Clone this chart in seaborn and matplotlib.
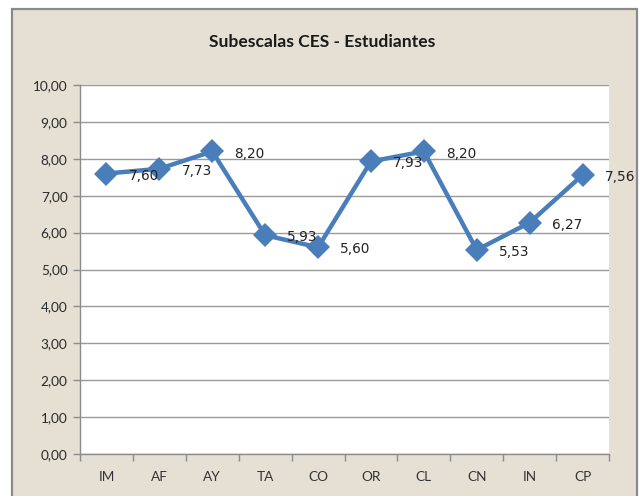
import matplotlib
matplotlib.use("Agg")
import matplotlib.pyplot as plt
from matplotlib.patches import Rectangle
import seaborn as sns
import pandas as pd

categories = ["IM", "AF", "AY", "TA", "CO", "OR", "CL", "CN", "IN", "CP"]
values = [7.60, 7.73, 8.20, 5.93, 5.60, 7.93, 8.20, 5.53, 6.27, 7.56]
yticks = [0, 1, 2, 3, 4, 5, 6, 7, 8, 9, 10]
title = "Subescalas CES - Estudiantes"

df = pd.DataFrame({"cat": categories, "val": values})

sns.set_theme(style="white")
plt.rcParams["font.family"] = ["Lato", "DejaVu Sans"]

W, H = 639, 496
fig = plt.figure(figsize=(W / 100, H / 100), dpi=100)
fig.patch.set_facecolor("white")

# chart frame with parchment background
bg = "#e6dfd4"
frame = Rectangle((12 / W, -0.05), (637 - 12) / W, 1.05 - 9 / H,
                  transform=fig.transFigure, facecolor=bg,
                  edgecolor="#8a8a8a", linewidth=1.6, zorder=-10)
fig.patches.append(frame)

left, right, top, bottom = 80, 609, 85, 454
ax = fig.add_axes([left / W, 1 - bottom / H, (right - left) / W, (bottom - top) / H])
ax.set_facecolor("white")

sns.lineplot(data=df, x="cat", y="val", ax=ax, sort=False, color="#4a7ebb",
             linewidth=3.2, marker="D", markersize=12.5, markeredgecolor="#4a7ebb",
             markeredgewidth=0)

for i, v in enumerate(values):
    ax.annotate(f"{v:.2f}".replace(".", ","), (i, v), xytext=(16, -1.5),
                textcoords="offset points", ha="left", va="center",
                fontsize=9.8, color="#222222", family=["DejaVu Sans"])

ax.set_ylim(0, 10)
ax.set_xlim(-0.5, len(categories) - 0.5)
ax.set_yticks(yticks)
ax.set_yticklabels([f"{t:.2f}".replace(".", ",") for t in yticks])
ax.set_xticks(range(len(categories)))
ax.set_xticklabels(categories)
ax.set_xticks([i - 0.5 for i in range(len(categories) + 1)], minor=True)
ax.tick_params(axis="x", which="major", length=0, pad=12, labelsize=9.8, colors="#333333")
ax.tick_params(axis="x", which="minor", length=5, width=1, color="#8c8c8c", bottom=True)
ax.tick_params(axis="y", which="major", length=5, width=1, color="#8c8c8c", left=True,
               pad=4, labelsize=9.8, labelcolor="#2a2a2a")
ax.grid(axis="y", color="#9a9a9a", linewidth=1)
ax.set_axisbelow(True)
for s in ["top", "right"]:
    ax.spines[s].set_visible(False)
for s in ["left", "bottom"]:
    ax.spines[s].set_color("#8c8c8c")
    ax.spines[s].set_linewidth(1)
ax.set_xlabel("")
ax.set_ylabel("")

fig.text(322 / W, 1 - 42 / H, title, ha="center", va="center",
         fontsize=12.6, fontweight="bold", color="#1a1a1a")

fig.savefig("out.png", dpi=100)
